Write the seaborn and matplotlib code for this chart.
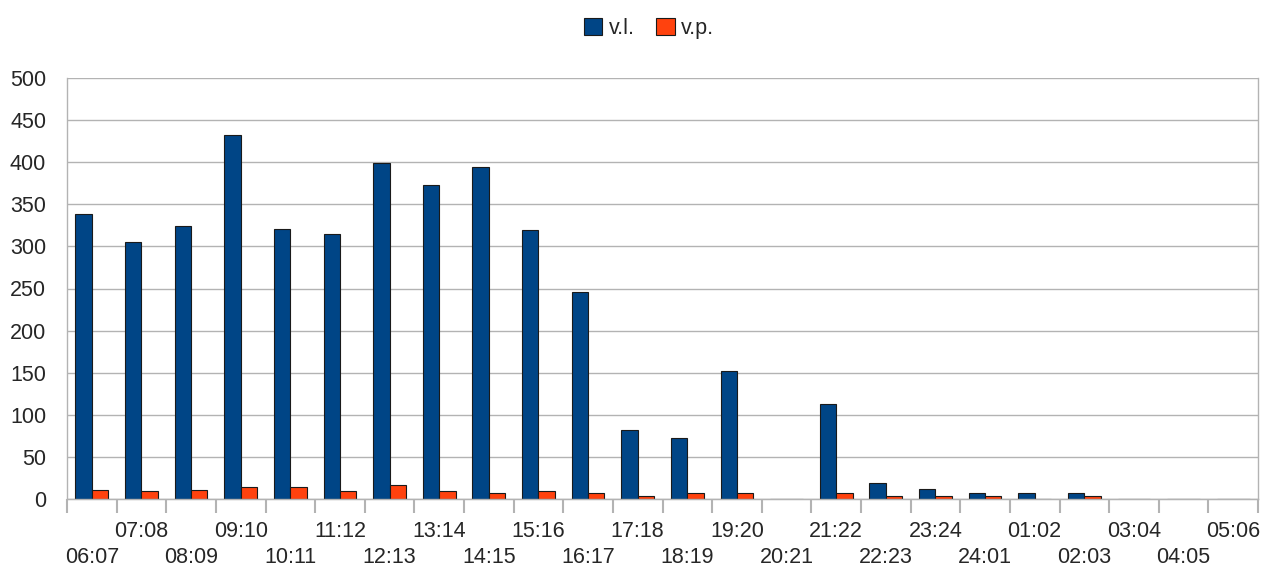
import pandas as pd
import seaborn as sns
import matplotlib.pyplot as plt

# hodinové intervaly a počty
hours = ["06:07", "07:08", "08:09", "09:10", "10:11", "11:12", "12:13", "13:14",
         "14:15", "15:16", "16:17", "17:18", "18:19", "19:20", "20:21", "21:22",
         "22:23", "23:24", "24:01", "01:02", "02:03", "03:04", "04:05", "05:06"]
vl = [338, 305, 324, 432, 321, 315, 399, 373, 394, 320, 246, 82, 73, 152, 0, 113,
      19, 12, 7, 7, 7, 0, 0, 0]
vp = [11, 10, 11, 14, 14, 10, 17, 10, 7, 10, 7, 3, 7, 7, 0, 7,
      3, 3, 3, 0, 3, 0, 0, 0]
series = ["v.l.", "v.p."]
colors = ["#004586", "#ff420e"]

df = pd.DataFrame({
    "hour": hours * 2,
    "count": vl + vp,
    "series": [series[0]] * len(hours) + [series[1]] * len(hours),
})

sns.set_style("white")
plt.rcParams["font.family"] = ["Liberation Sans", "DejaVu Sans"]
fs = 15.5

fig = plt.figure(figsize=(12.63, 5.68), dpi=100)
ax = fig.add_axes([67 / 1263, 1 - 499 / 568, (1258 - 67) / 1263, (499 - 78) / 568])

sns.barplot(data=df, x="hour", y="count", hue="series", order=hours,
            palette=colors, saturation=1, width=0.66, edgecolor="#1a1a1a",
            linewidth=0.8, ax=ax, legend=False)

grid = "#b3b3b3"
ax.set_ylim(0, 500)
ax.set_xlim(-0.5, len(hours) - 0.5)
ax.set_yticks(range(0, 501, 50))
ax.yaxis.grid(True, color=grid, linewidth=1)
ax.set_axisbelow(True)
ax.set_xlabel("")
ax.set_ylabel("")
ax.tick_params(axis="y", length=12, color=grid, width=1, pad=3, labelsize=fs)

ax.spines["top"].set_visible(False)
for side in ["left", "right", "bottom"]:
    ax.spines[side].set_color(grid)
    ax.spines[side].set_linewidth(1)

# popisky ve dvou řadách
idx = range(len(hours))
ax.set_xticks([i for i in idx if i % 2 == 1], [hours[i] for i in idx if i % 2 == 1])
ax.set_xticks([i for i in idx if i % 2 == 0], [hours[i] for i in idx if i % 2 == 0], minor=True)
ax.tick_params(axis="x", which="major", length=0, pad=16, labelsize=fs)
ax.tick_params(axis="x", which="minor", length=0, pad=34.5, labelsize=fs)

# značky mezi kategoriemi
sec = ax.secondary_xaxis("bottom")
sec.set_xticks([i - 0.5 for i in range(len(hours) + 1)], [""] * (len(hours) + 1))
sec.tick_params(length=10, color=grid, width=1.5)
sec.spines["bottom"].set_color(grid)

handles = [plt.Rectangle((0, 0), 1, 1, facecolor=c, edgecolor="#1a1a1a", linewidth=0.8)
           for c in colors]
fig.legend(handles, series, loc="center", bbox_to_anchor=(0.514, 0.95), ncol=2,
           frameon=False, handlelength=0.85, handleheight=0.85, handletextpad=0.3,
           columnspacing=1.0, fontsize=fs)

fig.savefig("out.png", dpi=100)
